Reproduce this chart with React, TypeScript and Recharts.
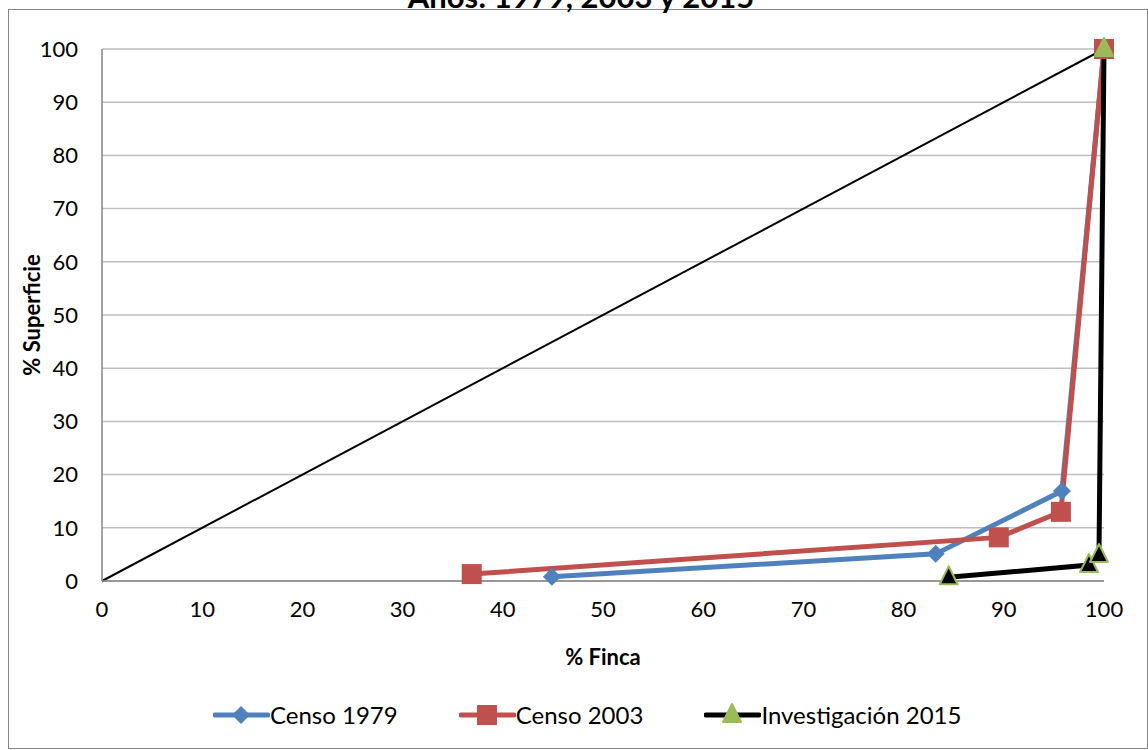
import { LineChart, Line, XAxis, YAxis, CartesianGrid } from 'recharts';

interface Pt {
  x: number;
  y: number;
}

// Lorenz-style curve values
const igualdad: Pt[] = [
  { x: 0, y: 0 },
  { x: 100, y: 100 },
];
const censo1979: Pt[] = [
  { x: 44.9, y: 0.8 },
  { x: 83.2, y: 5.1 },
  { x: 95.8, y: 16.9 },
  { x: 100, y: 100 },
];
const censo2003: Pt[] = [
  { x: 36.9, y: 1.3 },
  { x: 89.5, y: 8.2 },
  { x: 95.7, y: 13 },
  { x: 100, y: 100 },
];
const investigacion2015: Pt[] = [
  { x: 84.5, y: 0.7 },
  { x: 98.5, y: 3 },
  { x: 99.5, y: 4.9 },
  { x: 100, y: 100 },
];
const axisTicks = [0, 10, 20, 30, 40, 50, 60, 70, 80, 90, 100];

const seriesNames = ['Censo 1979', 'Censo 2003', 'Investigación 2015'];

const BLUE = '#4f81bd';
const RED = '#c0504d';
const GREEN = '#9bbb59';
const FONT = 'Lato, "Open Sans", sans-serif';

const Diamond = ({ cx, cy }: { cx: number; cy: number }) => (
  <path d={`M${cx},${cy - 9} L${cx + 9},${cy} L${cx},${cy + 9} L${cx - 9},${cy} Z`} fill={BLUE} />
);
const Square = ({ cx, cy }: { cx: number; cy: number }) => (
  <rect x={cx - 10} y={cy - 10} width={20} height={20} fill={RED} />
);
const Triangle = ({ cx, cy, top }: { cx: number; cy: number; top?: boolean }) => (
  <path
    d={`M${cx},${cy - 11} L${cx + 9},${cy + 7} L${cx - 9},${cy + 7} Z`}
    fill={top ? GREEN : '#000'}
    stroke={GREEN}
    strokeWidth={2}
    strokeLinejoin="round"
  />
);

const LegendIcon = ({ color, kind }: { color: string; kind: number }) => (
  <svg width={57} height={24}>
    <line x1={2} y1={12} x2={55} y2={12} stroke={color} strokeWidth={5} strokeLinecap="round" />
    {kind === 0 && <Diamond cx={28} cy={12} />}
    {kind === 1 && <Square cx={28} cy={12} />}
    {kind === 2 && <Triangle cx={28} cy={12} top />}
  </svg>
);

const ChartLegend = () => {
  const colors = [BLUE, RED, '#000'];
  return (
    <div
      style={{
        position: 'absolute',
        left: 213,
        top: 700,
        display: 'flex',
        alignItems: 'center',
        gap: 61,
        fontFamily: FONT,
        fontSize: 24,
      }}
    >
      {seriesNames.map((name, i) => (
        <div key={name} style={{ display: 'flex', alignItems: 'center' }}>
          <LegendIcon color={colors[i]} kind={i} />
          <span style={{ color: '#000' }}>{name}</span>
        </div>
      ))}
    </div>
  );
};

export default function App() {
  return (
    <div style={{ position: 'absolute', left: 0, top: 0, width: 1148, height: 750, background: '#fff', overflow: 'hidden' }}>
      <div
        style={{
          position: 'absolute',
          left: 8,
          top: 9,
          width: 1138,
          height: 738,
          border: '1px solid #868686',
        }}
      />
      <div style={{ position: 'absolute', left: 0, top: 0 }}>
        <LineChart width={1148} height={750} margin={{ top: 49, right: 44, left: 0, bottom: 109 }}>
          <CartesianGrid vertical={false} stroke="#bfbfbf" strokeWidth={1.5} />
          <XAxis
            type="number"
            dataKey="x"
            domain={[0, 100]}
            ticks={axisTicks}
            interval={0}
            height={60}
            tickLine={false}
            tickSize={0}
            tickMargin={20}
            axisLine={{ stroke: '#868686', strokeWidth: 1.5 }}
            tick={{ fill: '#000', fontSize: 22, fontFamily: FONT }}
            allowDuplicatedCategory={false}
          />
          <YAxis
            type="number"
            dataKey="y"
            domain={[0, 100]}
            ticks={axisTicks}
            interval={0}
            width={102}
            tickLine={false}
            tickSize={0}
            tickMargin={24}
            axisLine={{ stroke: '#868686', strokeWidth: 1.5 }}
            tick={{ fill: '#000', fontSize: 22, fontFamily: FONT }}
          />
          <Line data={igualdad} dataKey="y" stroke="#000" strokeWidth={2} dot={false} isAnimationActive={false} legendType="none" />
          <Line
            data={censo1979}
            dataKey="y"
            name={seriesNames[0]}
            stroke={BLUE}
            strokeWidth={5}
            dot={(p: any) => <Diamond key={`d${p.index}`} cx={p.cx} cy={p.cy} />}
            isAnimationActive={false}
          />
          <Line
            data={censo2003}
            dataKey="y"
            name={seriesNames[1]}
            stroke={RED}
            strokeWidth={5}
            dot={(p: any) => <Square key={`s${p.index}`} cx={p.cx} cy={p.cy} />}
            isAnimationActive={false}
          />
          <Line
            data={investigacion2015}
            dataKey="y"
            name={seriesNames[2]}
            stroke="#000"
            strokeWidth={5}
            dot={(p: any) => (
              <Triangle key={`t${p.index}`} cx={p.cx} cy={p.cy} top={p.index === investigacion2015.length - 1} />
            )}
            isAnimationActive={false}
          />
        </LineChart>
      </div>
      <ChartLegend />
      <svg width={1148} height={750} style={{ position: 'absolute', left: 0, top: 0, pointerEvents: 'none' }}>
        <text x={581} y={8} textAnchor="middle" fontFamily={FONT} fontWeight="bold" fontSize={31} fill="#000">
          Años: 1979, 2003 y 2015
        </text>
        <text x={603} y={665} textAnchor="middle" fontFamily={FONT} fontWeight="bold" fontSize={22} fill="#000">
          % Finca
        </text>
        <text
          x={0}
          y={0}
          transform="translate(40,315) rotate(-90)"
          textAnchor="middle"
          fontFamily={FONT}
          fontWeight="bold"
          fontSize={22}
          fill="#000"
        >
          % Superficie
        </text>
      </svg>
    </div>
  );
}
